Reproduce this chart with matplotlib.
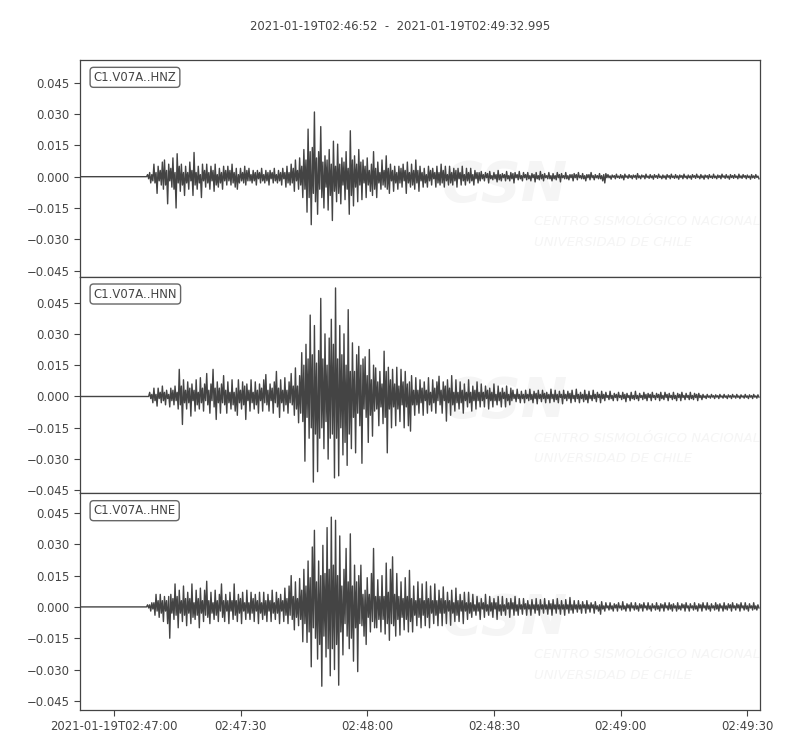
import numpy as np
import matplotlib
matplotlib.use("Agg")
import matplotlib.pyplot as plt

# ---------------- data (units of 0.001, one sample every 0.25 s from 02:46:52) ----------------
dt = 0.25
scale = 1e-3

hnz = [0.0] * 60 + [
    0, 0, 0, 0, 1, -1, 2, -3, 1, -2, 6, -3, 2, -8, 5, -2, 3, -4, 7, -6,
    8, -4, 3, -13, 6, -2, 4, -5, 9, -6, 2, -15, 11, -3, 5, -7, 6, -4, 2, -9,
    5, -3, 2, -6, 7, -2, 3, -9, 11.6, -4, 2, -6, 5, -3, 1, -10, 6, -2, 3, -5,
    6, -3, 2, -6, 5, -2, 3, -7, 6, -4, 1, -5, 4, -3, 2, -6, 5, -2, 3, -4,
    5, -2, 3, -4, 6, -3, 2, -5, 4, -6, 1, -3, 4, -2, 2, -3, 5, -4, 3, -2,
    4, -2, 1, -3, 3, -2, 2, -4, 3, -1, 2, -3, 4, -2, 1, -3, 3, -2, 2, -4,
    3, -1, 2, -3, 4, -2, 1, -3, 3, -2, 2, -4, 4, -1, 2, -5, 5, -3, 2, -4,
    6, -3, 4, -7, 8, -2, 3, -6, 9, -4, 5, -10, 13, -6, 8, -17, 22.8, -10, 12, -23,
    14, -8, 31, -12, 9, -18, 12, -6, 24, -10, 7, -15, 10, -5, 8, -16, 13, -9, 6, -21,
    17, -7, 5, -12, 15.6, -8, 6, -13, 9, -4, 7, -11, 12, -6, 4, -18, 22, -9, 8, -14,
    10, -5, 6, -12, 13, -4, 7, -11, 8, -3, 5, -10, 9, -4, 3, -7, 6, -9, 12, -6,
    4, -10, 7, -3, 2, -6, 8, -4, 3, -5, 10, -6, 4, -8, 6, -2, 3, -7, 5, -3,
    2, -6, 5, -3, 4, -5, 6, -2, 3, -8, 7, -3, 2, -5, 6, -4, 3, -6, 8, -3,
    3, -7, 5, -2, 2, -5, 4, -3, 1, -5, 5, -2, 3, -4, 4, -1, 2, -5, 5, -3,
    2, -4, 6, -3, 3, -5, 5, -2, 1, -4, 5, -3, 2, -4, 4, -2, 3, -5, 4, -1,
    2, -4, 5, -2, 1, -4, 4, -2, 2, -3, 4, -2, 1, -4, 3, -1, 2, -3, 2, -2,
    2.5, -1, 1, -2, 2, -0.5, 1.5, -3, 2.5, -1, 0.5, -1.5, 2, -1, 1, -2.5, 3, -1.5, 1, -2,
    1.5, -0.5, 1, -2, 2.5, -1, 0.5, -2, 2, -1, 1.5, -3, 2, -0.5, 1, -1.5, 2.5, -1, 0.5, -2,
    2, -0.5, 1, -1.5, 2, -1, 0.5, -2, 1.5, -0.5, 1, -2.5, 2, -1, 0.5, -1.5, 2.5, -1, 1, -2,
    1.5, -0.5, 0.5, -1, 2, -1, 0.5, -2, 1.5, -1, 0.5, -1.5, 2, -0.5, 1, -2.5, 1.5, -0.5, 0.5, -1,
    2, -1, 0.5, -1.5, 1, -0.5, 1, -2, 1.5, -0.5, 1, -1.5, 2, -0.5, 0.5, -1, 1.5, -1, 0.5, -2,
    1, -0.5, 1, -1.5, 2, -0.5, 0.5, -1.5, 1, -0.5, 0.5, -1, 1.5, -1, 0.5, -2, 1, -3, 1.5, -0.5,
    1, -0.5, 0.4, -1.2, 0.8, -0.3, 0.5, -1, 1.2, -0.4, 0.3, -0.8, 1, -0.6, 0.5, -1.5, 1.2, -0.3, 0.4, -0.8,
    1, -0.4, 0.5, -1, 0.8, -0.3, 0.6, -1.2, 1.5, -0.5, 0.4, -1, 0.8, -0.2, 0.5, -1, 1.2, -0.4, 0.3, -0.8,
    1, -0.5, 0.4, -1.2, 1, -0.3, 0.5, -0.8, 1.2, -0.4, 0.3, -1, 0.8, -0.5, 0.4, -1.2, 1, -0.3, 0.5, -1,
    1.2, -0.4, 0.3, -0.8, 1, -0.5, 0.4, -1.2, 0.8, -0.3, 0.5, -1, 1.2, -0.4, 0.3, -1, 0.8, -0.5, 0.4, -1.2,
    1, -0.3, 0.5, -0.8, 1.2, -0.4, 0.3, -1, 1, -0.5, 0.4, -1.2, 0.8, -0.3, 0.5, -1, 1, -0.4, 0.3, -0.8,
    1.2, -0.5, 0.3, -1, 0.8, -0.4, 0.5, -1, 1.2, -0.3, 0.4, -0.8, 1, -0.5, 0.3, -1.2, 1, -0.4, 0.5, -0.8,
    1, -0.4, 0.3, -1, 1.2, -0.5, 0.4, -0.8, 1, -0.3, 0.5, -1, 0.8, -0.4, 0.3, -1.2, 1, -0.5, 0.4, -0.8,
    1, -0.4, 0.3, -1,
]

hnn = [0.0] * 60 + [
    0, 0, 0, 0, 0, 0, 2, -1, 1, -3, 4, -2, 1, -4.6, 4, -1, 2, -3, 5, -2,
    2, -4, 3, -1, 1, -5, 4, -2, 3, -4, 5, -2, 2, -6, 13, -4, 5, -13.4, 8, -3,
    3, -6, 7, -3, 4, -9.4, 6, -2, 3, -7, 8, -4, 2, -6, 9, -3, 4, -7, 6, -2,
    11, -4, 3, -8, 6, -2, 13, -5, 4, -11, 7, -3, 4, -8, 6, -3, 10, -4, 3, -8,
    7, -3, 2, -6, 8, -4, 2, -7, 4, -9, 8, -3, 3, -6, 7, -4, 5, -11, 6, -2,
    3, -7, 8, -3, 2, -6, 7, -4, 3, -8, 6, -2, 4, -7, 8, -3, 10.5, -4, 3, -7,
    6, -2, 4, -8, 7, -3, 12, -5, 4, -10, 8, -3, 3, -7, 9, -4, 3, -8, 7, -3,
    11, -4, 5, -9, 13.7, -6, 5, -12.6, 10, -8, 21, -12, 15, -31, 25, -10, 18, -20, 39, -15,
    20, -41, 34, -18, 16, -36, 22, -20, 47, -15, 18, -25, 30, -12, 15, -30, 28, -20, 37, -18,
    25, -39, 52, -20, 18, -38, 34, -15, 20, -28, 30, -22, 15, -33, 41.6, -18, 12, -25, 25.7, -10,
    12, -27, 20, -8, 24, -14, 15, -32, 18, -6, 19, -10, 10, -22, 22.5, -9, 8, -19, 15, -7,
    13.7, -6, 7, -14, 12, -5, 6, -13, 21.7, -10, 12, -27, 14, -6, 8, -15, 13, -5, 6, -14,
    14, -6, 5, -12, 13, -4, 7, -15, 12, -5, 6, -14, 7, -16.6, 10, -4, 3, -9, 9, -4,
    3, -8, 8, -3, 4, -9, 7, -2, 3, -8, 9, -4, 2, -7, 8, -3, 4, -8, 7, -2,
    9.7, -4, 3, -8, 7, -2, 5, -11.8, 8, -3, 4, -9, 10, -4, 2, -7, 8, -3, 2, -6,
    7, -3, 3, -8, 6, -2, 2, -5, 8, -3, 2, -7, 5, -2, 3, -6, 7, -2, 2, -5,
    6, -2, 2, -5, 5, -1, 3, -6, 4, -2, 2, -5, 6, -2, 1, -4, 5, -2, 2, -5,
    4, -1, 2, -5, 5, -2, 1, -4, 4, -2, 3, -1, 1, -2.5, 3.5, -1, 1, -3, 2.5, -1,
    1, -3, 3, -1, 1, -2, 3.5, -1.5, 1, -3, 2.5, -1, 1.5, -3.5, 3, -1, 1, -2.5, 3, -1,
    1.5, -3, 2, -1, 1, -3, 3.5, -1, 1, -2.5, 3, -1.5, 1, -3, 2.5, -0.5, 1, -3.5, 3, -1,
    1, -2, 2.5, -1, 1.5, -3, 3, -1, 0.5, -2.5, 3.5, -1, 1, -3, 2, -1, 1, -2.5, 3, -1.5,
    1, -3, 2.5, -1, 0.5, -2, 3, -1, 1, -2.5, 2, -0.5, 1, -3, 2.5, -1, 1, -2, 2, -0.5,
    0.5, -1.5, 2.5, -1, 0.5, -2, 1.5, -0.5, 1, -2, 2, -0.5, 0.5, -1.5, 2, -1, 1, -2.5, 1.5, -0.5,
    0.5, -2, 2, -1, 0.5, -1.5, 2.5, -1, 0.5, -2, 1.5, -0.5, 0.5, -1.5, 2, -1, 1, -2, 1.5, -0.5,
    1, -2, 2, -0.5, 0.5, -1.5, 1.5, -0.5, 1, -2, 2, -1, 0.5, -1.5, 2, -0.5, 1, -2, 1.5, -0.5,
    0.5, -1.5, 2, -1, 0.5, -2, 1.5, -0.5, 1, -2, 2, -0.5, 0.5, -1.5, 1.5, -0.5, 0.5, -1.5, 2, -1,
    0.5, -1.5, 1.5, -0.5, 1, -2, 1.5, -0.5, 0.5, -1.5, 1, -0.5, 0.3, -1, 1, -0.4, 0.3, -0.8, 1, -0.3,
    0.4, -1, 0.8, -0.3, 0.4, -1, 1, -0.3, 0.3, -0.8, 1, -0.4, 0.3, -1, 0.8, -0.3, 0.4, -1, 1, -0.3,
    0.3, -0.8, 1, -0.4, 0.3, -1, 0.8, -0.3, 0.3, -0.8, 1, -0.4, 0.3, -1, 0.8, -0.3, 0.4, -1, 1, -0.3,
    0.3, -0.8, 0.8, -0.3,
]

hne = [0.0] * 60 + [
    0, 0, 0, 0, 1, -0.5, 1, -2, 2, -1, 2, -4, 6, -2, 3, -5, 6, -3, 3, -7,
    5, -2, 3, -8, 5, -15, 6, -3, 4, -6, 11, -4, 5, -10, 8, -3, 3, -7, 10, -4,
    4, -9, 7, -3, 4, -8, 11, -5, 2, -6, 8, -4, 4, -10, 9, -3, 3, -7, 8, -4,
    12.3, -5, 3, -8, 7, -3, 2, -6, 8, -4, 3, -7, 6, -2, 11, -5, 3, -7, 6, -2,
    3, -8, 7, -2, 3, -6, 11, -4, 3, -7, 6, -3, 4, -8, 7, -2, 2, -6, 8, -3,
    2, -6, 7, -3, 4, -7, 6, -2, 3, -8, 7, -3, 2, -6, 7, -4, 3, -7, 6, -2,
    3, -7, 8, -3, 2, -6, 7, -3, 4, -8, 6, -2, 3, -7, 9, -4, 4, -8, 10, -4,
    15, -6, 5, -11, 12, -5, 4, -9, 13.6, -6, 8, -16.7, 18, -8, 10, -17, 22, -12, 14, -28.7,
    28.7, -10, 36.7, -15, 12, -25, 22, -18, 15, -38, 29.5, -14, 16, -24, 38, -20, 18, -33, 43, -20,
    20, -30, 41.5, -18, 15, -37.5, 34, -12, 10, -23, 18, -8, 28, -14, 12, -20, 35, -15, 10, -26,
    20, -10, 12, -31, 15, -8, 20, -9, 6, -14, 8, -18, 14, -5, 6, -12, 16, -7, 28, -10,
    5, -10, 13, -6, 5, -12, 15, -6, 5, -13, 21, -8, 7, -16, 18, -8, 24, -9, 6, -14,
    16, -6, 5, -13.5, 12, -5, 4, -11, 14, -6, 5, -12, 17.5, -7, 4, -12, 10, -4, 3, -9,
    12, -5, 4, -10, 11, -4, 3, -9, 12, -5, 4, -10, 10, -3, 3, -8, 11, -4, 3, -9,
    8, -3, 4, -9, 9.6, -3, 3, -8, 7, -2, 3, -8.8, 8, -3, 2, -7, 9, -4, 3, -7,
    6, -2, 3, -8, 7, -2, 2, -6, 7, -3, 2, -5, 6, -2, 1, -4, 5, -2, 2, -6,
    4, -1, 2, -5, 6, -2, 1, -4, 5, -2, 2, -5, 4, -1, 2, -6, 5, -2, 1, -4,
    5, -2, 1, -4, 4, -1, 2, -5, 4, -1, 2, -4, 5, -2, 1, -4, 4, -1, 1, -3.5,
    4, -1, 1.5, -4, 3, -1, 1, -4, 3.5, -1, 1, -3, 4, -1.5, 1, -4, 3.5, -1, 1, -3,
    4, -1, 1, -3.5, 3, -1, 1.5, -4, 3.5, -1, 1, -3, 4, -1, 1, -3.5, 3, -1, 1, -4,
    3.5, -1, 1, -3, 4.5, -1.5, 1, -3, 3, -1, 1, -2.5, 3, -1, 1, -3, 2.5, -0.5, 1, -3,
    3, -1, 1, -2.5, 2, -0.5, 1, -3, 2.5, -1, 0.5, -2, 1, -3.5, 2.5, -1, 0.5, -2, 2, -0.5,
    0.5, -1.5, 2, -1, 0.5, -2, 1.5, -0.5, 1, -2, 2, -0.5, 0.5, -1.5, 2.5, -1, 0.5, -2, 1.5, -0.5,
    1, -2, 2, -0.5, 0.5, -1.5, 2, -1, 0.5, -2, 1.5, -0.5, 1, -2, 2, -0.5, 0.5, -1.5, 2, -1,
    0.5, -2, 1.5, -0.5, 0.5, -1.5, 2, -1, 0.5, -2, 1.5, -0.5, 1, -2, 2, -0.5, 0.5, -1.5, 2, -1,
    1, -2, 1.5, -0.5, 0.5, -2, 2, -1, 0.5, -1.5, 1.5, -0.5, 1, -2, 2, -0.5, 0.5, -2, 1.5, -0.5,
    0.5, -1.5, 2, -1, 0.5, -2, 1.5, -0.5, 1, -2, 2, -0.5, 0.5, -1.5, 2, -1, 0.5, -2, 1.5, -0.5,
    0.5, -1.5, 2, -1, 1, -2, 1.5, -0.5, 0.5, -2, 2, -1, 0.5, -1.5, 1.5, -0.5, 1, -2, 2, -0.5,
    0.5, -1.5, 1.5, -0.5, 1, -2, 2, -0.5, 0.5, -1.5, 2, -1, 0.5, -2, 1.5, -0.5, 0.5, -1.5, 2, -1,
    0.5, -1.5, 1, -0.5,
]

channels = ["C1.V07A..HNZ", "C1.V07A..HNN", "C1.V07A..HNE"]
traces = [hnz, hnn, hne]
title = "2021-01-19T02:46:52  -  2021-01-19T02:49:32.995"
duration = 160.995  # seconds
xtick_pos = [8, 38, 68, 98, 128, 158]  # seconds after 02:46:52
xtick_labels = ["2021-01-19T02:47:00", "02:47:30", "02:48:00", "02:48:30", "02:49:00", "02:49:30"]
ytick_vals = [-0.045, -0.030, -0.015, 0.000, 0.015, 0.030, 0.045]

# ---------------- plot ----------------
GRAY = "#444444"
WM = "#f5f5f5"
FS = 8.4
plt.rcParams["font.family"] = ["DejaVu Sans"]

fig, axes = plt.subplots(3, 1, sharex=True, figsize=(8, 7.5), dpi=100)
fig.subplots_adjust(left=0.1, right=0.95, top=0.92, bottom=0.0533, hspace=0)
fig.suptitle(title, y=0.973, fontsize=FS, color=GRAY)

half = 0.0519
for i, (ax, ch, tr) in enumerate(zip(axes, channels, traces)):
    data = np.asarray(tr, dtype=float) * scale
    t = np.arange(len(data)) * dt
    # faint watermark
    ax.text(0.625, 0.42, "CSN", transform=ax.transAxes, ha="center", va="center",
            fontsize=40, fontweight="bold", fontstyle="italic", color=WM, zorder=0)
    ax.text(0.668, 0.255, "CENTRO SISMOLÓGICO NACIONAL", transform=ax.transAxes,
            ha="left", va="center", fontsize=9.5, fontstyle="italic", color=WM, zorder=0)
    ax.text(0.668, 0.16, "UNIVERSIDAD DE CHILE", transform=ax.transAxes,
            ha="left", va="center", fontsize=9.5, fontstyle="italic", color=WM, zorder=0)
    ax.plot(t, data, color=GRAY, lw=1.0, zorder=2)
    mid = (data.max() + data.min()) / 2
    ax.set_ylim(mid - half, mid + half)
    ax.set_xlim(0, duration)
    ax.set_yticks(ytick_vals)
    ax.set_yticklabels([f"{v:.3f}".replace("-", "\u2212") for v in ytick_vals])
    ax.tick_params(axis="y", labelsize=FS, colors=GRAY, length=4, width=0.8, direction="out")
    for s in ax.spines.values():
        s.set_color(GRAY)
        s.set_linewidth(0.9)
    ax.text(0.02, 0.95, ch, transform=ax.transAxes, ha="left", va="top", fontsize=FS,
            color=GRAY, zorder=5,
            bbox=dict(boxstyle="round,pad=0.3", fc="white", ec="#666666", lw=1))
    if i < 2:
        ax.tick_params(axis="x", length=0, labelbottom=False)

axes[-1].set_xticks(xtick_pos)
axes[-1].set_xticklabels(xtick_labels)
axes[-1].tick_params(axis="x", labelsize=FS, colors=GRAY, length=4, width=0.8, direction="out")

fig.savefig("out.png", dpi=100)
